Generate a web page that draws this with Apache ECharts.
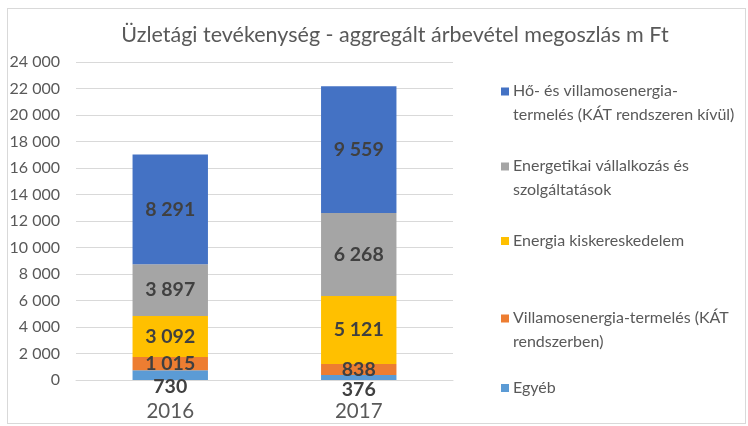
<!DOCTYPE html>
<html style="height: 100%">
<head>
<meta charset="utf-8">
<title></title>
<style>
  body { margin: 0; background: #fff; }
  .frame { position: absolute; left: 7px; top: 8px; width: 737px; height: 414px; border: 1px solid #D9D9D9; }
  #chart { position: absolute; left: 0; top: 0; width: 748px; height: 426px; }
</style>
</head>
<body>
<div class="frame"></div>
<div id="chart"></div>
<script src="https://cdn.jsdelivr.net/npm/echarts@6/dist/echarts.min.js"></script>
<script type="text/javascript">
// adatok
var years = ['2016', '2017'];
var egyeb = [730, 376];
var villKat = [1015, 838];
var kisker = [3092, 5121];
var vallalkozas = [3897, 6268];
var hoVill = [8291, 9559];
var yTicks = [0, 2000, 4000, 6000, 8000, 10000, 12000, 14000, 16000, 18000, 20000, 22000, 24000];

var names = [
  'Egyéb',
  'Villamosenergia-termelés (KÁT\nrendszerben)',
  'Energia kiskereskedelem',
  'Energetikai vállalkozás és\nszolgáltatások',
  'Hő- és villamosenergia-\ntermelés (KÁT rendszeren kívül)'
];
var colors = ['#5B9BD5', '#ED7D31', '#FFC000', '#A5A5A5', '#4472C4'];
var values = [egyeb, villKat, kisker, vallalkozas, hoVill];

var font = 'Lato, "Open Sans", sans-serif';

function fmt(v) {
  return String(v).replace(/\B(?=(\d{3})+(?!\d))/g, ' ');
}

var series = [];
for (var i = 0; i < values.length; i++) {
  series.push({
    name: names[i],
    type: 'bar',
    stack: 'total',
    barWidth: '40%',
    itemStyle: { color: colors[i] },
    data: values[i],
    label: {
      show: true,
      position: 'inside',
      offset: i == 0 ? [0, 12] : [0, 0],
      formatter: function (p) { return fmt(p.value); },
      color: '#404040',
      fontSize: 19.5,
      fontWeight: 'bold',
      fontFamily: font
    }
  });
}

// legend tetejétől lefelé: minden elem külön
var legendTops = [74, 149, 224, 301, 371];
var legends = [];
for (var j = 0; j < 5; j++) {
  var idx = 4 - j;
  var twoLines = names[idx].indexOf('\n') >= 0;
  legends.push({
    left: 496,
    top: legendTops[j],
    data: [names[idx]],
    itemWidth: 8,
    itemHeight: twoLines ? 32 : 8,
    icon: twoLines ? 'path://M0,0h8v8h-8z M0,31h0.01v0.01h-0.01z' : 'rect',
    itemGap: 0,
    selectedMode: false,
    textStyle: { color: '#595959', fontSize: 16, fontFamily: font, lineHeight: 24, padding: [0, 0, 0, -1] }
  });
}

var myChart = echarts.init(document.getElementById('chart'));
var option = {
  animation: false,
  title: {
    text: 'Üzletági tevékenység - aggregált árbevétel megoszlás m Ft',
    left: 390,
    textAlign: 'center',
    top: 19,
    textStyle: { color: '#595959', fontSize: 21.5, fontWeight: 'normal', fontFamily: font }
  },
  legend: legends,
  grid: { left: 76, right: 295, top: 62, bottom: 46 },
  xAxis: {
    type: 'category',
    data: years,
    axisLine: { show: true, lineStyle: { color: '#D9D9D9' } },
    axisTick: { show: false },
    axisLabel: { color: '#595959', fontSize: 20.5, fontFamily: font, margin: 21 }
  },
  yAxis: {
    type: 'value',
    min: yTicks[0],
    max: yTicks[yTicks.length - 1],
    interval: 2000,
    axisLine: { show: false },
    axisTick: { show: false },
    splitLine: { lineStyle: { color: '#D9D9D9' } },
    axisLabel: { color: '#595959', fontSize: 16, fontFamily: font, margin: 16, formatter: function (v) { return fmt(v); } }
  },
  series: series
};
myChart.setOption(option);
</script>
</body>
</html>
